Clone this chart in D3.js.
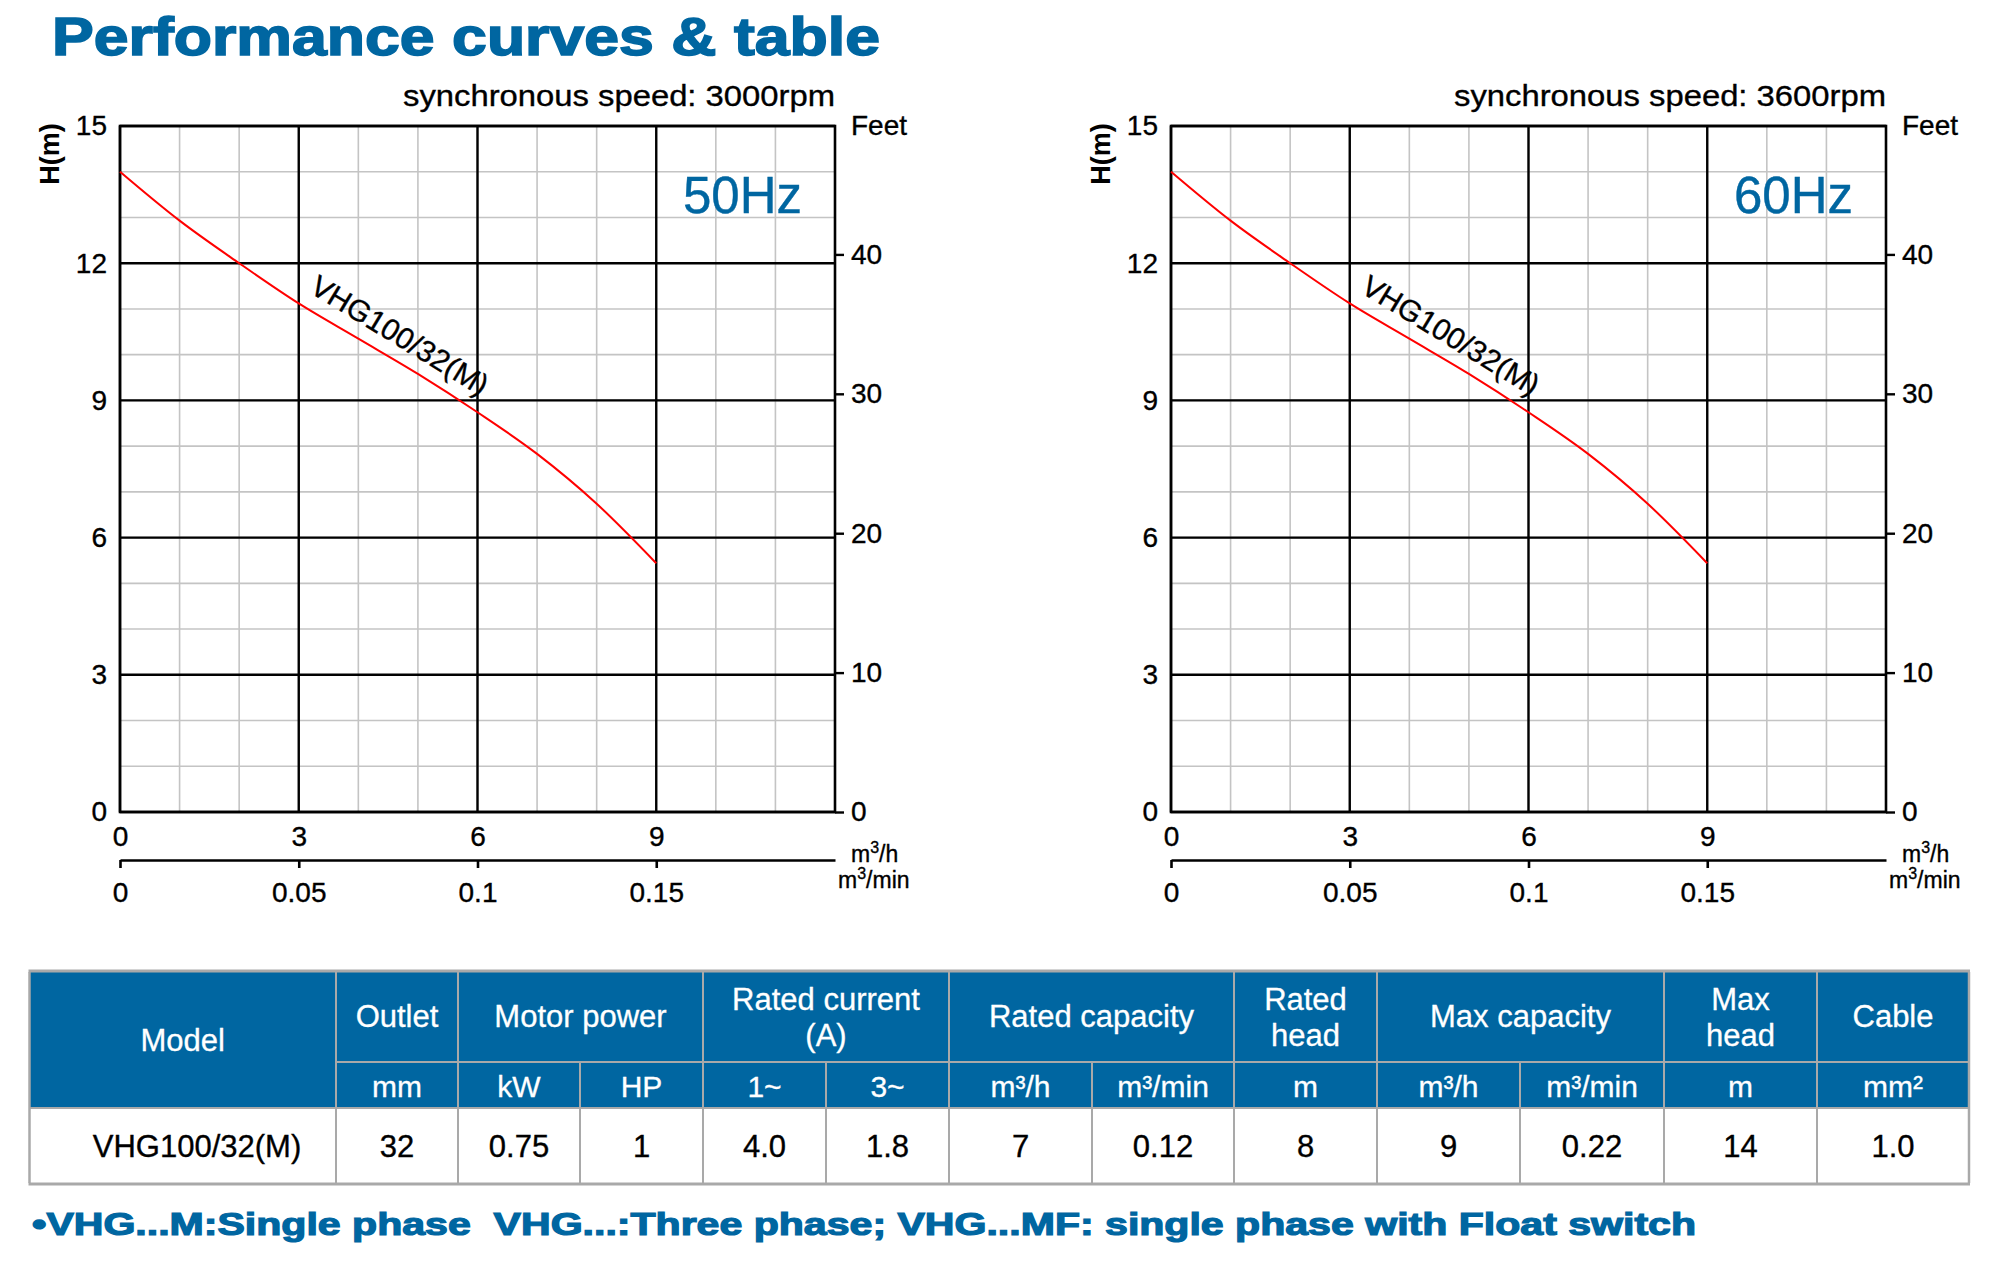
<!DOCTYPE html>
<html>
<head>
<meta charset="utf-8">
<script src="https://cdn.jsdelivr.net/npm/d3@7"></script>
<style>
  body { margin: 0; background: #fff; }
  svg { display: block; font-family: "Liberation Sans", Arial, sans-serif; }
</style>
</head>
<body>
<script>
// chart values
const flow = [0, 1, 2, 3, 4, 5, 6, 7, 8, 9]                       // m3/h
const head = [14.0, 12.93, 12.0, 11.12, 10.35, 9.58, 8.74, 7.83, 6.74, 5.44] // m
const flowTicks = [0, 3, 6, 9]
const flowMinTicks = [0, 0.05, 0.1, 0.15]
const headTicks = [0, 3, 6, 9, 12, 15]
const feetTicks = [0, 10, 20, 30, 40]
const panels = ['50Hz', '60Hz']
const speeds = ['synchronous speed: 3000rpm', 'synchronous speed: 3600rpm']
const modelName = 'VHG100/32(M)'

// table values
const topHeads = [['Model'], ['Outlet'], ['Motor power'], ['Rated current', '(A)'], ['Rated capacity'],
  ['Rated', 'head'], ['Max capacity'], ['Max', 'head'], ['Cable']]
const topSpans = [1, 1, 2, 2, 2, 1, 2, 1, 1]
const units = ['mm', 'kW', 'HP', '1~', '3~', 'm³/h', 'm³/min', 'm', 'm³/h', 'm³/min', 'm', 'mm²']
const rowValues = ['VHG100/32(M)', '32', '0.75', '1', '4.0', '1.8', '7', '0.12', '8', '9', '0.22', '14', '1.0']
const footNote = '•VHG...M:Single phase  VHG...:Three phase; VHG...MF: single phase with Float switch'

const blue = '#0066a1'
const W = 2012, H = 1277
const svg = d3.select('body').append('svg').attr('width', W).attr('height', H)
svg.append('rect').attr('width', W).attr('height', H).attr('fill', '#fff')

// title
svg.append('text').text('Performance curves & table').attr('x', 52).attr('y', 55)
  .attr('font-size', 54).attr('font-weight', 'bold').attr('fill', blue)
  .attr('stroke', blue).attr('stroke-width', 1.6)
  .attr('textLength', 828).attr('lengthAdjust', 'spacingAndGlyphs')

/* CHARTS */
const pw = 715, ph = 686
const x = d3.scaleLinear([0, 12], [0, pw])
const xMin = d3.scaleLinear([0, 0.2], [0, pw])
const y = d3.scaleLinear([0, 15], [ph, 0])
const yFt = d3.scaleLinear([0, 15 * 3.28084], [ph, 0])
const pts = flow.map((f, i) => [f, head[i]])
const line = d3.line().x(d => x(d[0])).y(d => y(d[1])).curve(d3.curveMonotoneX)

// heavier text like the print
const ink = sel => sel.attr('stroke', '#000').attr('stroke-width', 0.35)
const styleAxis = g => g.attr('font-size', 28).attr('font-family', '"Liberation Sans", Arial, sans-serif')
  .call(g => g.selectAll('text').attr('fill', '#000').call(ink))

panels.forEach((hz, k) => {
  const g = svg.append('g').attr('transform', `translate(${120 + k * 1051}, 126)`)

  // minor grid
  g.append('g').selectAll('line').data(x.ticks(12)).join('line')
    .attr('x1', d => x(d)).attr('x2', d => x(d)).attr('y1', 0).attr('y2', ph)
    .attr('stroke', '#c4c4c4').attr('stroke-width', 1.6)
  g.append('g').selectAll('line').data(y.ticks(15)).join('line')
    .attr('x1', 0).attr('x2', pw).attr('y1', d => y(d)).attr('y2', d => y(d))
    .attr('stroke', '#c4c4c4').attr('stroke-width', 1.6)
  // major grid
  g.append('g').selectAll('line').data(flowTicks).join('line')
    .attr('x1', d => x(d)).attr('x2', d => x(d)).attr('y1', 0).attr('y2', ph)
    .attr('stroke', '#000').attr('stroke-width', 2.4)
  g.append('g').selectAll('line').data(headTicks).join('line')
    .attr('x1', 0).attr('x2', pw).attr('y1', d => y(d)).attr('y2', d => y(d))
    .attr('stroke', '#000').attr('stroke-width', 2.4)
  g.append('rect').attr('width', pw).attr('height', ph)
    .attr('fill', 'none').attr('stroke', '#000').attr('stroke-width', 2.6)

  // curve
  g.append('path').attr('d', line(pts)).attr('fill', 'none')
    .attr('stroke', '#ff0000').attr('stroke-width', 2)
  g.append('text').text(modelName)
    .attr('transform', `translate(${x(flow[3])}, ${y(head[3])}) rotate(31.3)`)
    .attr('x', 2).attr('y', -15).attr('font-size', 30).call(ink)

  // axes
  g.append('g').call(d3.axisLeft(y).tickValues(headTicks).tickSize(0).tickPadding(13).tickFormat(d => d))
    .call(styleAxis).call(a => a.select('.domain').remove())
  g.append('g').attr('transform', `translate(${pw},0)`)
    .call(d3.axisRight(yFt).tickValues(feetTicks).tickSize(9).tickPadding(7).tickFormat(d => d))
    .call(styleAxis).call(a => a.select('.domain').remove())
    .call(a => a.selectAll('line').attr('stroke', '#000').attr('stroke-width', 2.4))
  g.append('g').attr('transform', `translate(0,${ph})`)
    .call(d3.axisBottom(x).tickValues(flowTicks).tickSize(0).tickPadding(14).tickFormat(d => d))
    .call(styleAxis).call(a => a.select('.domain').remove())
  g.append('g').attr('transform', `translate(0,${ph + 48})`)
    .call(d3.axisBottom(xMin).tickValues(flowMinTicks).tickSize(8).tickSizeOuter(0).tickPadding(14).tickFormat(d => d))
    .call(styleAxis)
    .call(a => a.selectAll('line, .domain').attr('stroke', '#000').attr('stroke-width', 2.6))

  // axis titles
  g.append('text').text('H(m)').attr('transform', `translate(-61, 28) rotate(-90)`)
    .attr('text-anchor', 'middle').attr('font-size', 27).attr('font-weight', 'bold')
  g.append('text').text('Feet').attr('x', pw + 16).attr('y', 9).attr('font-size', 28).call(ink)
  const u1 = g.append('text').attr('x', pw + 16).attr('y', ph + 50).attr('font-size', 23).call(ink)
  u1.append('tspan').text('m')
  u1.append('tspan').text('3').attr('font-size', 16).attr('dy', -9)
  u1.append('tspan').text('/h').attr('dy', 9)
  const u2 = g.append('text').attr('x', pw + 3).attr('y', ph + 76).attr('font-size', 23).call(ink)
  u2.append('tspan').text('m')
  u2.append('tspan').text('3').attr('font-size', 16).attr('dy', -9)
  u2.append('tspan').text('/min').attr('dy', 9)

  g.append('text').text(speeds[k]).attr('x', pw).attr('y', -20).attr('text-anchor', 'end')
    .attr('font-size', 30).attr('textLength', 432).attr('lengthAdjust', 'spacingAndGlyphs').call(ink)
  g.append('text').text(hz).attr('x', pw - 33).attr('y', 87).attr('text-anchor', 'end')
    .attr('font-size', 51).attr('fill', blue).attr('stroke', blue).attr('stroke-width', 0.4)
})

/* TABLE */
const edges = [29.5, 336, 458, 580, 703, 826, 949, 1092, 1234, 1377, 1520, 1664, 1817, 1969]
const t0 = 972, t1 = 1062, t2 = 1108, t3 = 1183
const tbl = svg.append('g')
tbl.append('rect').attr('x', edges[0]).attr('y', t0).attr('width', edges[13] - edges[0]).attr('height', t2 - t0).attr('fill', blue)
tbl.append('rect').attr('x', edges[0]).attr('y', t2).attr('width', edges[13] - edges[0]).attr('height', t3 - t2).attr('fill', '#fff')

// header spans
let col = 0
const spans = topHeads.map((lines, i) => {
  const s = { lines, a: col, b: col + topSpans[i] }
  col += topSpans[i]
  return s
})
const gray = '#a9a9a9'
spans.forEach((s, i) => {
  const cx = (edges[s.a] + edges[s.b]) / 2
  if (i > 0) tbl.append('line').attr('x1', edges[s.a]).attr('x2', edges[s.a]).attr('y1', t0).attr('y2', t1)
    .attr('stroke', gray).attr('stroke-width', 2)
  const txt = tbl.append('text').attr('text-anchor', 'middle').attr('fill', '#fff').attr('font-size', 31)
    .attr('stroke', '#fff').attr('stroke-width', 0.3)
  if (i === 0) txt.attr('x', cx).attr('y', 1051).text(s.lines[0])
  else if (s.lines.length === 1) txt.attr('x', cx).attr('y', 1027).text(s.lines[0])
  else s.lines.forEach((l, j) => txt.append('tspan').attr('x', cx).attr('y', 1010 + j * 36).text(l))
})
tbl.append('line').attr('x1', edges[1]).attr('x2', edges[13]).attr('y1', t1).attr('y2', t1).attr('stroke', gray).attr('stroke-width', 2)
tbl.append('line').attr('x1', edges[0]).attr('x2', edges[13]).attr('y1', t2).attr('y2', t2).attr('stroke', gray).attr('stroke-width', 2)
edges.slice(1, 13).forEach(e => {
  tbl.append('line').attr('x1', e).attr('x2', e).attr('y1', e === edges[1] ? t0 : t1).attr('y2', t3)
    .attr('stroke', gray).attr('stroke-width', 2)
})
units.forEach((u, i) => {
  tbl.append('text').text(u).attr('x', (edges[i + 1] + edges[i + 2]) / 2).attr('y', 1097)
    .attr('text-anchor', 'middle').attr('fill', '#fff').attr('font-size', 30)
    .attr('stroke', '#fff').attr('stroke-width', 0.3)
})
rowValues.forEach((v, i) => {
  tbl.append('text').text(v).attr('x', i === 0 ? 197 : (edges[i] + edges[i + 1]) / 2).attr('y', 1157)
    .attr('text-anchor', 'middle').attr('fill', '#000').attr('font-size', 31).call(ink)
})
// outer border
tbl.append('line').attr('x1', edges[0] - 1).attr('x2', edges[13] + 1).attr('y1', t0 - 1).attr('y2', t0 - 1).attr('stroke', gray).attr('stroke-width', 3)
tbl.append('line').attr('x1', edges[0] - 1).attr('x2', edges[13] + 1).attr('y1', t3 + 1).attr('y2', t3 + 1).attr('stroke', gray).attr('stroke-width', 3)
tbl.append('line').attr('x1', edges[0]).attr('x2', edges[0]).attr('y1', t0).attr('y2', t3).attr('stroke', gray).attr('stroke-width', 2.5)
tbl.append('line').attr('x1', edges[13]).attr('x2', edges[13]).attr('y1', t0).attr('y2', t3).attr('stroke', gray).attr('stroke-width', 2.5)

// footnote
svg.append('text').text(footNote).attr('x', 32).attr('y', 1235)
  .style('white-space', 'pre')
  .attr('font-size', 31).attr('font-weight', 'bold').attr('fill', blue)
  .attr('stroke', blue).attr('stroke-width', 1.2)
  .attr('textLength', 1664).attr('lengthAdjust', 'spacingAndGlyphs')
</script>
</body>
</html>
